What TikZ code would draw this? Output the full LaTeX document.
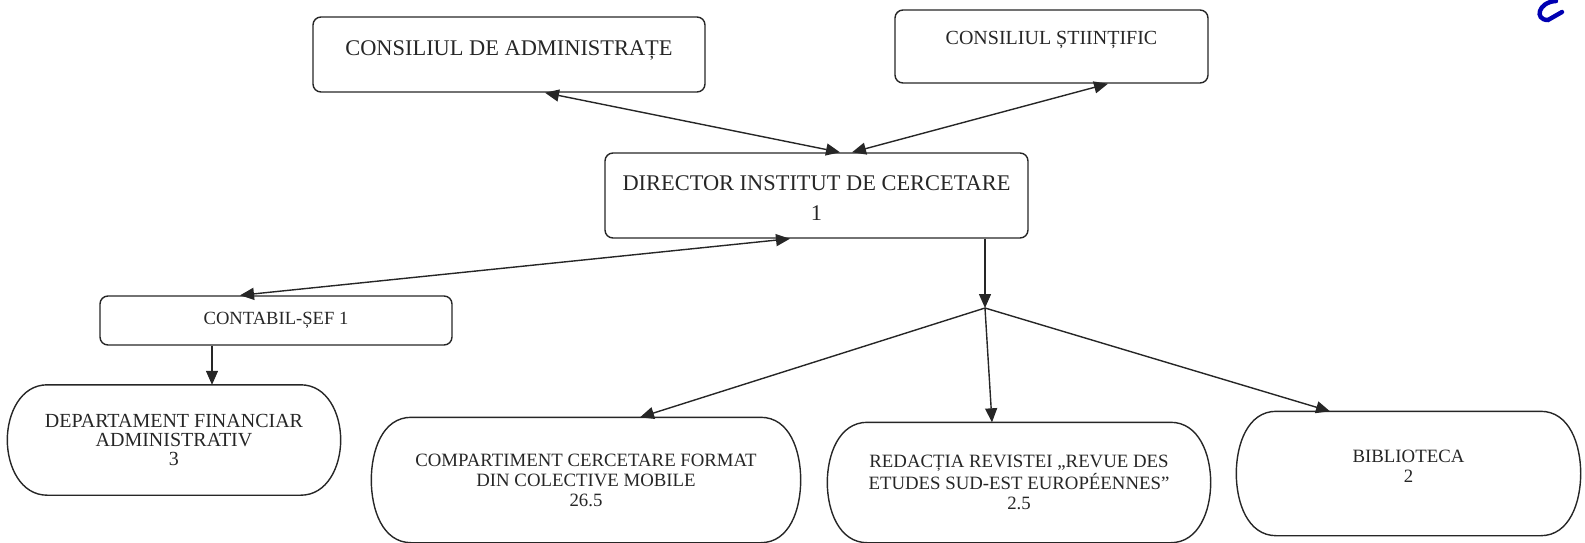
\documentclass[tikz,border=0pt]{standalone}
\usepackage{fontspec}
\setmainfont{Liberation Serif}
\usetikzlibrary{arrows.meta}

\tikzset{
	box/.style={draw, rounded corners=4pt, inner sep=0pt, font=\fontsize{11.2}{15}\selectfont},
	pill/.style={inner sep=0pt, align=center, font=\fontsize{9.4}{10}\selectfont,
		append after command={\pgfextra{\draw ([xshift=20pt]\tikzlastnode.north west) -- ([xshift=-20pt]\tikzlastnode.north east) to[out=0,in=90] (\tikzlastnode.east) to[out=-90,in=0] ([xshift=-20pt]\tikzlastnode.south east) -- ([xshift=20pt]\tikzlastnode.south west) to[out=180,in=-90] (\tikzlastnode.west) to[out=90,in=180] ([xshift=20pt]\tikzlastnode.north west) -- cycle;}}},
	link/.style={-{Triangle[length=7pt,width=6pt]}},
	twoway/.style={{Triangle[length=7pt,width=6pt]}-{Triangle[length=7pt,width=6pt]}},
}

\begin{document}
\begin{tikzpicture}[x=0.5pt,y=-0.5pt,line width=0.7pt,color=black!85]
		%%%%% START %%%%%
		\useasboundingbox (0,0) rectangle (1585,542);
		
		\node[box, minimum width=196pt, minimum height=37.5pt, text height=19.25pt, text depth=18.25pt] (admin) at (509,54.5) {CONSILIUL DE ADMINISTRAȚE};
		\node[box, minimum width=156.5pt, minimum height=36.5pt, text height=17.25pt, text depth=19.25pt, font=\fontsize{10}{12}\selectfont] (sci) at (1051.5,46.5) {CONSILIUL ȘTIINȚIFIC};
		
		\node[box, minimum width=211.5pt, minimum height=42.5pt, align=center, text height=33.5pt, text depth=9pt] (dir) at (816.5,195.5) {DIRECTOR INSTITUT DE CERCETARE\\1};
		
		\node[box, minimum width=176pt, minimum height=24.5pt, font=\fontsize{9.3}{11}\selectfont] (chief) at (276,320.5) {CONTABIL-ȘEF 1};
		
		\node[pill, minimum width=166pt, minimum height=54.5pt, font=\fontsize{10}{9.6}\selectfont] (dept) at (174,440) {DEPARTAMENT FINANCIAR\\ADMINISTRATIV\\3};
		\node[pill, minimum width=214pt, minimum height=62pt] (comp) at (586,480) {COMPARTIMENT CERCETARE FORMAT\\DIN COLECTIVE MOBILE\\26.5};
		\node[pill, minimum width=191pt, minimum height=59.5pt] (journal) at (1019,482.5) {REDACȚIA REVISTEI „REVUE DES\\ETUDES SUD-EST EUROPÉENNES”\\2.5};
		\node[pill, minimum width=171.5pt, minimum height=61.5pt] (library) at (1408.5,473.5) {BIBLIOTECA\\2\\[-3pt]};
		
		\draw[twoway] ([xshift=18pt]admin.south) -- ([xshift=11.75pt]dir.north);
		\draw[twoway] ([xshift=28.25pt]sci.south) -- ([xshift=17.75pt]dir.north);
		\draw[twoway] ([xshift=-18pt]chief.north) -- ([xshift=-13.25pt]dir.south);
		\draw[link] ([xshift=-32pt]chief.south) -- ([xshift=19pt]dept.north);
		
		\coordinate (fork) at (985,308);
		\draw[link] ([xshift=84.25pt]dir.south) -- (fork);
		\draw[link] (fork) -- ([xshift=27pt]comp.north);
		\draw[link] (fork) -- ([xshift=-13.5pt]journal.north);
		\draw[link] (fork) -- ([xshift=-39.25pt]library.north);
		
		% ink mark in the corner
		\draw[blue!70!black, line width=2.2pt, line cap=round] (1556,1) .. controls (1538,2) and (1534,20) .. (1548,20) -- (1562,12);
		
		%%%%% END %%%%%
\end{tikzpicture}
\end{document}
